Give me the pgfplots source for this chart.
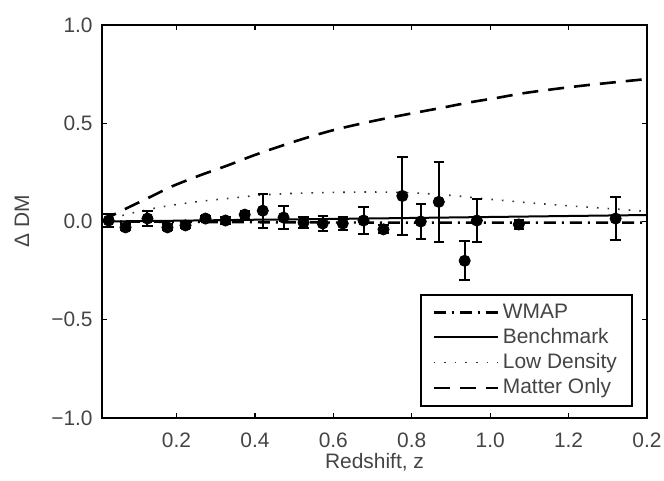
\documentclass[border=0pt]{standalone}
\usepackage{fontspec}
\setmainfont{Liberation Sans}
\usepackage{pgfplots}
\usepackage{pgfplotstable}
\pgfplotsset{compat=1.18}
\definecolor{txt}{HTML}{444444}

\pgfplotstableread{
z d e
0.027 0.005 0.035
0.070 -0.030 0.015
0.126 0.015 0.040
0.177 -0.030 0.015
0.223 -0.020 0.015
0.274 0.015 0.015
0.325 0.005 0.020
0.374 0.035 0.020
0.420 0.055 0.087
0.473 0.020 0.060
0.524 -0.005 0.030
0.573 -0.010 0.040
0.624 -0.010 0.035
0.677 0.005 0.070
0.728 -0.040 0.020
0.776 0.130 0.200
0.823 0.000 0.090
0.869 0.100 0.205
0.935 -0.200 0.100
0.966 0.005 0.110
1.073 -0.015 0.025
1.320 0.015 0.110
}\sndata

\pgfplotstableread{
z y
0.01 0.000
0.20 -0.002
0.40 -0.004
0.60 -0.005
0.80 -0.006
1.00 -0.006
1.20 -0.006
1.40 -0.006
}\wmap

\pgfplotstableread{
z y
0.01 0.000
0.20 0.004
0.40 0.009
0.60 0.013
0.80 0.018
1.00 0.023
1.20 0.028
1.40 0.033
}\bench

\pgfplotstableread{
z y
0.01 0.000
0.08 0.040
0.165 0.075
0.25 0.100
0.33 0.117
0.42 0.135
0.50 0.143
0.60 0.148
0.70 0.150
0.80 0.146
0.90 0.133
0.98 0.117
1.10 0.095
1.20 0.080
1.30 0.066
1.40 0.052
}\lowd

\pgfplotstableread{
z y
0.01 0.000
0.05 0.045
0.128 0.120
0.19 0.180
0.26 0.235
0.33 0.285
0.395 0.335
0.46 0.380
0.53 0.425
0.60 0.465
0.675 0.500
0.74 0.527
0.805 0.552
0.88 0.580
0.95 0.607
1.02 0.630
1.085 0.653
1.16 0.673
1.23 0.690
1.31 0.707
1.40 0.725
}\matter

\begin{document}
\fontsize{10.5}{12.6}\selectfont
\begin{tikzpicture}
\begin{axis}[
  scale only axis, width=272.5bp, height=196.5bp,
  xmin=0.01, xmax=1.4, ymin=-1, ymax=1,
  xtick={0.2,0.4,0.6,0.8,1.0,1.2,1.4},
  xticklabels={0.2,0.4,0.6,0.8,1.0,1.2,0.2},
  ytick={-1,-0.5,0,0.5,1},
  yticklabels={−1.0,−0.5,0.0,0.5,1.0},
  tick align=inside, major tick length=2.5bp,
  tick style={black, line width=0.6bp},
  axis line style={black, line width=1bp},
  ticklabel style={text=txt, font=\fontsize{10.5}{12}\selectfont},
  xticklabel style={yshift=-4bp},
  yticklabel style={xshift=-1bp},
  every axis x label/.style={at={(axis description cs:0.5,-0.112)}, anchor=center, text=txt, font=\fontsize{10.5}{12}\selectfont},
  every axis y label/.style={at={(axis description cs:-0.147,0.5)}, rotate=90, anchor=center, text=txt, font=\fontsize{10.5}{12}\selectfont},
  xlabel={Redshift, z},
  ylabel={Δ DM},
  legend cell align=left,
  legend style={at={(0.974,0.028)}, anchor=south east, draw=black, line width=1bp,
    text=txt, font=\fontsize{10.5}{12}\selectfont, row sep=-0.5bp, inner xsep=5.5bp, inner ysep=2.5bp},
  legend image code/.code={\draw[#1] (0bp,0bp) -- (32bp,0bp);},
]
\addplot[black, line width=1.2bp, dash pattern=on 6bp off 3bp on 1bp off 3bp] table[x=z,y=y] {\wmap};
\addlegendentry{WMAP}
\addplot[black, line width=1bp] table[x=z,y=y] {\bench};
\addlegendentry{Benchmark}
\addplot[black!80, line width=0.8bp, dash pattern=on 0.8bp off 4.5bp, smooth] table[x=z,y=y] {\lowd};
\addlegendentry{Low Density}
\addplot[black, line width=1.3bp, dash pattern=on 8bp off 5bp, smooth] table[x=z,y=y] {\matter};
\addlegendentry{Matter Only}
\addplot[forget plot, only marks, black, mark=*, mark size=2.8bp,
  error bars/.cd, y dir=both, y explicit,
  error bar style={line width=1bp},
  error mark options={rotate=90, mark size=2.6bp, line width=1bp}]
  table[x=z, y=d, y error=e] {\sndata};
\end{axis}
\pgfresetboundingbox
\path[use as bounding box] ([shift={(-51bp,-31.5bp)}]current axis.south west) rectangle ([shift={(8.5bp,12.5bp)}]current axis.north east);
\end{tikzpicture}
\end{document}
